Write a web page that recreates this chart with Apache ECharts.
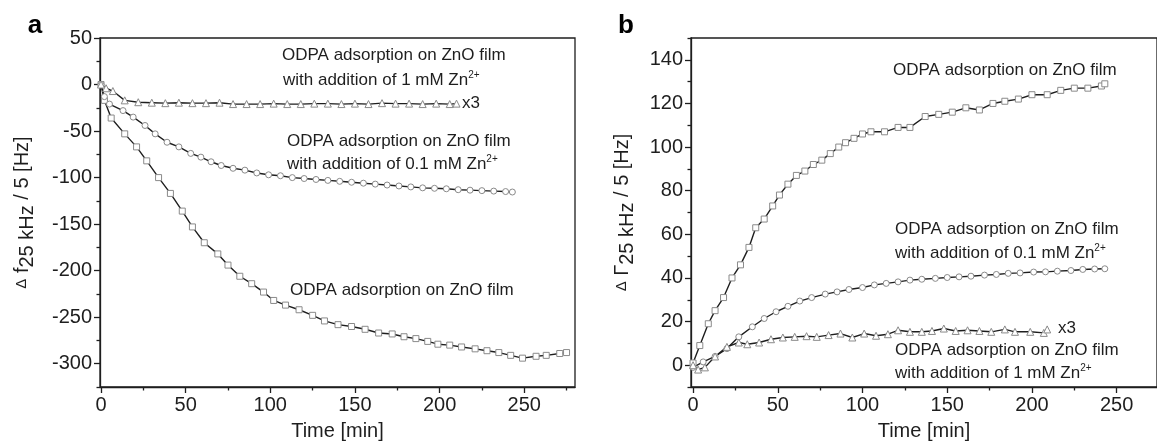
<!DOCTYPE html>
<html>
<head>
<meta charset="utf-8">
<script src="https://cdn.jsdelivr.net/npm/echarts@6/dist/echarts.min.js"></script>
<style>
html, body { margin: 0; padding: 0; background: #fff; }
#chart { width: 1157px; height: 448px; }
</style>
</head>
<body>
<div id="chart"></div>
<script>
// ---- panel a : delta f ----
var tSqA = [0, 2, 6, 14, 21, 27, 34, 41, 48, 54, 61, 69, 75, 82, 89, 96, 102, 109, 117, 125,
  132, 140, 148, 156, 164, 172, 179, 186, 193, 199, 206, 213, 221, 228, 235, 242, 249, 257, 263, 271, 275];
var fSqA = [0, -17, -36, -53, -67, -82, -100, -117, -136, -153, -170, -182, -194, -206, -214, -223, -232, -237, -242, -248,
  -254, -258, -260, -263, -267, -268, -271, -273, -276, -279, -280, -282, -284, -286, -288, -291, -294, -292, -291, -289, -288];

var tCiA = [0, 2, 5, 13, 19, 26, 32, 39, 46, 53, 59, 65, 71, 78, 85, 92, 99, 106, 113, 120,
  127, 134, 141, 148, 155, 162, 169, 176, 183, 190, 197, 204, 211, 218, 225, 232, 239, 243];
var fCiA = [0, -13, -21, -28, -35, -44, -53, -62, -67, -74, -78, -83, -87, -90, -92, -95, -97, -98, -100, -101,
  -102, -103, -104, -105, -106, -107, -108, -109, -110, -111, -111.5, -112, -113, -113.5, -114, -114.5, -115, -115.5];

var tTrA = [0, 3, 7, 14, 22, 30, 38, 46, 54, 62, 70, 78, 86, 94, 102, 110, 118, 126, 134, 142,
  150, 158, 166, 174, 182, 190, 198, 206, 210];
var fTrA = [0, -4, -7, -17, -19, -19.5, -20, -19.5, -20, -20, -19.5, -21, -21, -21, -20.5, -21, -21, -20.5, -20.5, -21,
  -20.5, -21, -20, -20.5, -20.5, -21, -20.5, -21, -20.5];

// ---- panel b : delta Gamma ----
var tSqB = [0, 4, 9, 13, 18, 23, 28, 33, 37, 42, 47, 51, 56, 61, 66, 71, 76, 81, 86, 90,
  95, 100, 105, 113, 121, 128, 137, 145, 153, 161, 169, 177, 184, 192, 200, 209, 217, 225, 233, 241, 243];
var gSqB = [1, 9, 19, 25, 31, 40, 46, 54, 63, 67, 73, 78, 83, 87, 89, 92, 94, 97, 100, 102,
  104, 106, 107, 107, 109, 109, 114, 115, 116, 118, 117, 120, 121, 122, 124, 124, 126, 127, 127, 128, 129];

var tCiB = [0, 6, 13, 20, 27, 35, 42, 49, 56, 63, 70, 78, 85, 92, 100, 107, 114, 121, 128, 135,
  143, 150, 157, 164, 172, 179, 186, 193, 201, 208, 215, 223, 230, 237, 243];
var gCiB = [-1, 1.5, 4, 7.6, 13, 17.6, 21.4, 24.5, 27, 29.4, 31, 32.6, 33.6, 34.7, 35.6, 36.8, 37.5, 38.2, 39, 39.4,
  39.8, 40.2, 40.5, 40.8, 41.3, 41.6, 42.1, 42.3, 42.7, 42.8, 43.1, 43.4, 43.9, 44.1, 44.2];

var tTrB = [0, 3, 7, 13, 20, 27, 32, 39, 46, 53, 60, 67, 73, 80, 87, 94, 101, 108, 115, 121,
  128, 135, 141, 148, 155, 162, 169, 176, 184, 190, 199, 207, 209];
var gTrB = [0, -2, -1, 4, 8.4, 10.4, 9.6, 10.4, 11.9, 12.7, 13, 13.3, 13, 13.8, 14.5, 12.7, 14.5, 13.5, 14.2, 16,
  15.3, 15.3, 15.7, 16.8, 15.7, 16, 15.7, 15.3, 16.4, 15.3, 15.3, 14.8, 16.4];

// tick values
var xMajorA = [0, 50, 100, 150, 200, 250];
var xMinorA = [25, 75, 125, 175, 225, 275];
var yMajorA = [-300, -250, -200, -150, -100, -50, 0, 50];
var yMinorA = [-325, -275, -225, -175, -125, -75, -25, 25];
var xMajorB = [0, 50, 100, 150, 200, 250];
var xMinorB = [25, 75, 125, 175, 225];
var yMajorB = [0, 20, 40, 60, 80, 100, 120, 140];
var yMinorB = [-10, 10, 30, 50, 70, 90, 110, 130, 150];

var FONT = '"Liberation Sans", Arial, Helvetica, sans-serif';
var INK = '#1e1e1e';

function pairs(t, v) {
  return t.map(function (x, i) { return [x, v[i]]; });
}

function mainAxis(grid, pos, min, max, major, name, gap, rich) {
  return {
    gridIndex: grid, type: 'value', position: pos, min: min, max: max,
    axisLine: { show: true, onZero: false, lineStyle: { color: INK, width: 1.3 } },
    axisTick: { show: true, length: 6, customValues: major, lineStyle: { color: INK, width: 1.3 } },
    axisLabel: { customValues: major, fontSize: 20, color: INK, fontFamily: FONT, margin: 8 },
    splitLine: { show: false },
    name: name, nameLocation: 'middle', nameGap: gap,
    nameTextStyle: { fontSize: 20, color: INK, fontFamily: FONT, rich: rich }
  };
}

function minorAxis(grid, pos, min, max, minor) {
  return {
    gridIndex: grid, type: 'value', position: pos, min: min, max: max,
    axisLine: { show: false, onZero: false },
    axisTick: { show: true, length: 3.5, customValues: minor, lineStyle: { color: INK, width: 1.3 } },
    axisLabel: { show: false },
    splitLine: { show: false }
  };
}

function curve(xi, yi, data, symbol, size) {
  return {
    type: 'line', xAxisIndex: xi, yAxisIndex: yi, data: data,
    symbol: symbol, symbolSize: size, showSymbol: true,
    lineStyle: { color: INK, width: 1.4 },
    itemStyle: { color: '#fff', borderColor: '#8a8a8a', borderWidth: 1 },
    animation: false
  };
}

var titleRich = {
  d: { fontSize: 15, fontFamily: FONT, color: INK },
  n: { fontSize: 20, fontFamily: FONT, color: INK },
  s: { fontSize: 20, fontFamily: FONT, color: INK, padding: [10, 0, 0, 0] }
};

function note(x, y, txt) {
  return {
    type: 'text', x: x, y: y, silent: true,
    style: {
      text: txt, fill: INK, font: '17px ' + FONT, align: 'left', verticalAlign: 'middle',
      rich: { sup: { fontSize: 10, fontFamily: FONT, fill: INK, padding: [0, 0, 9, 0] } }
    }
  };
}

var chart = echarts.init(document.getElementById('chart'));
chart.setOption({
  backgroundColor: '#fff',
  animation: false,
  grid: [
    { left: 100, top: 38, width: 475, height: 349, show: true, borderColor: INK, borderWidth: 1.3 },
    { left: 691, top: 38, width: 473, height: 349, show: true, borderColor: INK, borderWidth: 1.3 }
  ],
  xAxis: [
    mainAxis(0, 'bottom', -0.6, 280, xMajorA, 'Time [min]', 34),
    minorAxis(0, 'bottom', -0.6, 280, xMinorA),
    mainAxis(1, 'bottom', -1.2, 273.8, xMajorB, 'Time [min]', 34),
    minorAxis(1, 'bottom', -1.2, 273.8, xMinorB)
  ],
  yAxis: [
    mainAxis(0, 'left', -325, 50, yMajorA, '{d|Δ} {n|f}{s|25 kHz}{n| / 5 [Hz]}', 63, titleRich),
    minorAxis(0, 'left', -325, 50, yMinorA),
    mainAxis(1, 'left', -10, 150, yMajorB, '{d|Δ} {n|Γ}{s|25 kHz}{n| / 5 [Hz]}', 54, titleRich),
    minorAxis(1, 'left', -10, 150, yMinorB)
  ],
  series: [
    curve(0, 0, pairs(tSqA, fSqA), 'rect', 6),
    curve(0, 0, pairs(tCiA, fCiA), 'circle', 6),
    curve(0, 0, pairs(tTrA, fTrA), 'triangle', 7),
    curve(2, 2, pairs(tSqB, gSqB), 'rect', 6),
    curve(2, 2, pairs(tCiB, gCiB), 'circle', 6),
    curve(2, 2, pairs(tTrB, gTrB), 'triangle', 7)
  ],
  graphic: [
    { type: 'text', x: 35, y: 26, silent: true,
      style: { text: 'a', fill: '#000', font: 'bold 26px ' + FONT, align: 'center', verticalAlign: 'middle' } },
    { type: 'text', x: 626, y: 26, silent: true,
      style: { text: 'b', fill: '#000', font: 'bold 26px ' + FONT, align: 'center', verticalAlign: 'middle' } },
    note(282, 55, 'ODPA adsorption on ZnO film'),
    note(283, 80, 'with addition of 1 mM Zn{sup|2+}'),
    note(462, 103, 'x3'),
    note(287, 141, 'ODPA adsorption on ZnO film'),
    note(287, 164, 'with addition of 0.1 mM Zn{sup|2+}'),
    note(290, 290, 'ODPA adsorption on ZnO film'),
    note(893, 70, 'ODPA adsorption on ZnO film'),
    note(895, 229, 'ODPA adsorption on ZnO film'),
    note(895, 253, 'with addition of 0.1 mM Zn{sup|2+}'),
    note(1058, 328, 'x3'),
    note(895, 350, 'ODPA adsorption on ZnO film'),
    note(895, 373, 'with addition of 1 mM Zn{sup|2+}')
  ]
});
</script>
</body>
</html>
